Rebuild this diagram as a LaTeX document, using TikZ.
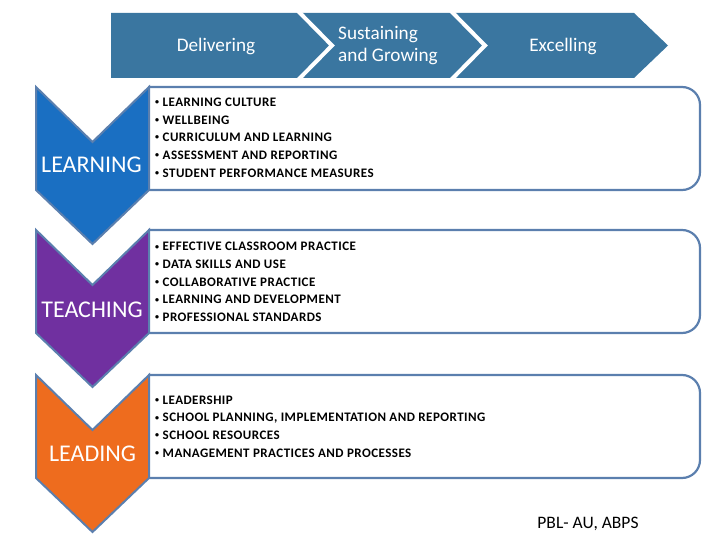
\documentclass[tikz,border=0pt]{standalone}
\usepackage{fontspec}
\setmainfont{Carlito}
\newfontfamily\listfont[LetterSpace=3.5]{Carlito}
\usepackage{xcolor}
\definecolor{Banner}{HTML}{3A76A0}
\definecolor{Frame}{HTML}{5B7FAE}
\definecolor{LearnBlue}{HTML}{1A6FC2}
\definecolor{TeachPurple}{HTML}{7030A0}
\definecolor{LeadOrange}{HTML}{EE6C1E}
\newcommand{\itm}{\raisebox{1.8pt}{\fontsize{8}{8}\selectfont•}\hspace{3.5pt}}
\tikzset{
  stagetext/.style={text=white,inner sep=0pt,font=\fontsize{19.2}{22}\selectfont},
  chevlabel/.style={text=white,inner sep=0pt,font=\fontsize{24}{28}\selectfont},
  bulletlist/.style={anchor=west,align=left,inner sep=0pt,font=\listfont\bfseries\fontsize{13}{17.7}\selectfont},
  areabox/.style={draw=Frame,line width=2.2pt,rounded corners=18pt},
  chevron/.style={draw=Frame,line width=2pt,line join=miter}
}
\begin{document}
\begin{tikzpicture}[x=1pt,y=-1pt]
\useasboundingbox (0,0) rectangle (720,540);
% banner across the top
\fill[Banner] (111,13) -- (634,13) -- (668,45.5) -- (634,78) -- (111,78) -- cycle;
\draw[white,line width=4pt] (298,11) -- (332,45.5) -- (298,80);
\draw[white,line width=4pt] (451,11) -- (485,45.5) -- (451,80);
\node[stagetext] (deliv) at (216,46) {Delivering};
\node[stagetext,align=left] (sust) at (388,46) {Sustaining\\and Growing};
\node[stagetext] (excel) at (563,46) {Excelling};
% boxes on the right
\draw[areabox] (148,87) -- (700,87) -- (700,190) -- (148,190);
\draw[areabox] (148,230) -- (700,230) -- (700,333) -- (148,333);
\draw[areabox] (148,375) -- (700,375) -- (700,478) -- (148,478);
% chevrons on the left
\filldraw[chevron,fill=LearnBlue] (36,87) -- (92.5,142) -- (149,87) -- (149,190) -- (92.5,244) -- (36,190) -- cycle;
\filldraw[chevron,fill=TeachPurple] (36,230) -- (92.5,285) -- (149,230) -- (149,333) -- (92.5,387) -- (36,333) -- cycle;
\filldraw[chevron,fill=LeadOrange] (36,375) -- (92.5,430) -- (149,375) -- (149,478) -- (92.5,532) -- (36,478) -- cycle;
\node[chevlabel] (learn) at (91.5,165) {LEARNING};
\node[chevlabel] (teach) at (92,310) {TEACHING};
\node[chevlabel] (lead) at (92.5,454) {LEADING};
% contents
\node[bulletlist] (learnlist) at (155,137.5) {\itm LEARNING CULTURE\\\itm WELLBEING\\\itm CURRICULUM AND LEARNING\\\itm ASSESSMENT AND REPORTING\\\itm STUDENT PERFORMANCE MEASURES};
\node[bulletlist] (teachlist) at (155,282) {\itm EFFECTIVE CLASSROOM PRACTICE\\\itm DATA SKILLS AND USE\\\itm COLLABORATIVE PRACTICE\\\itm LEARNING AND DEVELOPMENT\\\itm PROFESSIONAL STANDARDS};
\node[bulletlist] (leadlist) at (155,426.5) {\itm LEADERSHIP\\\itm SCHOOL PLANNING, IMPLEMENTATION AND REPORTING\\\itm SCHOOL RESOURCES\\\itm MANAGEMENT PRACTICES AND PROCESSES};
\node[inner sep=0pt,font=\fontsize{17.5}{20}\selectfont] (credit) at (588,524) {PBL- AU, ABPS};
\end{tikzpicture}
\end{document}
